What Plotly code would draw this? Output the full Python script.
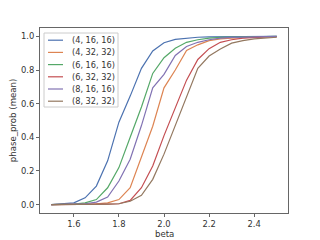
import plotly.graph_objects as go

beta = [1.5, 1.55, 1.6, 1.65, 1.7, 1.75, 1.8, 1.85, 1.9, 1.95, 2.0, 2.05, 2.1, 2.15, 2.2, 2.25, 2.3, 2.35, 2.4, 2.45, 2.5]

labels = ["(4, 16, 16)", "(4, 32, 32)", "(6, 16, 16)", "(6, 32, 32)", "(8, 16, 16)", "(8, 32, 32)"]
colors = ["#4c72b0", "#dd8452", "#55a868", "#c44e52", "#8172b3", "#937860"]

p_4_16 = [0.0, 0.003, 0.01, 0.04, 0.11, 0.26, 0.49, 0.645, 0.81, 0.913, 0.962, 0.982, 0.99, 0.995, 0.997, 0.998, 0.999, 0.999, 1.0, 1.0, 1.0]
p_4_32 = [0.0, 0.0, 0.001, 0.002, 0.004, 0.01, 0.03, 0.10, 0.288, 0.466, 0.694, 0.80, 0.917, 0.95, 0.975, 0.985, 0.99, 0.994, 0.997, 0.998, 0.999]
p_6_16 = [0.0, 0.001, 0.003, 0.01, 0.03, 0.10, 0.22, 0.40, 0.58, 0.78, 0.873, 0.93, 0.965, 0.98, 0.99, 0.994, 0.996, 0.998, 0.999, 1.0, 1.0]
p_6_32 = [0.0, 0.0, 0.0, 0.001, 0.002, 0.003, 0.005, 0.025, 0.10, 0.23, 0.41, 0.58, 0.74, 0.863, 0.927, 0.965, 0.98, 0.99, 0.995, 0.997, 0.998]
p_8_16 = [0.0, 0.001, 0.002, 0.005, 0.015, 0.045, 0.14, 0.27, 0.47, 0.694, 0.774, 0.887, 0.94, 0.965, 0.98, 0.99, 0.994, 0.997, 0.998, 0.999, 1.0]
p_8_32 = [0.0, 0.0, 0.0, 0.001, 0.002, 0.003, 0.005, 0.02, 0.055, 0.15, 0.30, 0.47, 0.64, 0.81, 0.883, 0.925, 0.96, 0.975, 0.985, 0.99, 0.995]

series = [p_4_16, p_4_32, p_6_16, p_6_32, p_8_16, p_8_32]

W, H = 320, 240
ML, MR, MT, MB = 40, 32, 28, 27
PW, PH = W - ML - MR, H - MT - MB


def px(x):
    return (x - ML) / PW


def py(y):
    return (H - MB - y) / PH


FS_LEG = 8.2
FS_TICK = 8.4
FS_LAB = 8.6
TXT = "#333333"

fig = go.Figure()
for lab, col, ys in zip(labels, colors, series):
    fig.add_trace(go.Scatter(x=beta, y=ys, mode="lines", name=lab, showlegend=False,
                             line=dict(color=col, width=1.2)))

# hand-built compact legend (matplotlib style)
shapes = [dict(type="rect", xref="paper", yref="paper",
               x0=px(44), x1=px(118), y0=py(107), y1=py(33),
               line=dict(color="#cccccc", width=1), fillcolor="rgba(255,255,255,0.8)", layer="above")]
annotations = []
row0, step = 40.2, 12.2
for i, (lab, col) in enumerate(zip(labels, colors)):
    yy = row0 + i * step
    shapes.append(dict(type="line", xref="paper", yref="paper",
                       x0=px(48), x1=px(63), y0=py(yy), y1=py(yy),
                       line=dict(color=col, width=1.2), layer="above"))
    annotations.append(dict(xref="paper", yref="paper", x=px(70), y=py(yy),
                            xanchor="left", yanchor="middle", text=lab, showarrow=False,
                            font=dict(size=FS_LEG, color=TXT)))

# axis titles
annotations.append(dict(xref="paper", yref="paper", x=px(164), y=py(234),
                        xanchor="center", yanchor="middle", text="beta", showarrow=False,
                        font=dict(size=FS_LAB, color=TXT)))
annotations.append(dict(xref="paper", yref="paper", x=px(12.7), y=py(120.5),
                        xanchor="center", yanchor="middle", text="phase_prob (mean)",
                        textangle=-90, showarrow=False, font=dict(size=FS_LAB, color=TXT)))

axis_common = dict(showgrid=False, zeroline=False, showline=True, mirror=True,
                   linecolor="#666666", linewidth=1.2, ticks="outside", ticklen=3,
                   tickcolor="#666666", tickfont=dict(size=FS_TICK, color=TXT), automargin=False)

fig.update_layout(
    width=W, height=H,
    margin=dict(l=ML, r=MR, t=MT, b=MB, autoexpand=False),
    paper_bgcolor="white", plot_bgcolor="white",
    font=dict(family="DejaVu Sans", size=FS_TICK, color=TXT),
    xaxis=dict(range=[1.45, 2.55], tickvals=[1.6, 1.8, 2.0, 2.2, 2.4],
               ticktext=["1.6", "1.8", "2.0", "2.2", "2.4"], **axis_common),
    yaxis=dict(range=[-0.05, 1.05], tickvals=[0, 0.2, 0.4, 0.6, 0.8, 1.0],
               ticktext=["0.0", "0.2", "0.4", "0.6", "0.8", "1.0"], **axis_common),
    shapes=shapes,
    annotations=annotations,
    showlegend=False,
)

fig.write_html("out.html", config={"displayModeBar": False},
               post_script="document.body.style.margin='0';document.body.style.padding='0';")
